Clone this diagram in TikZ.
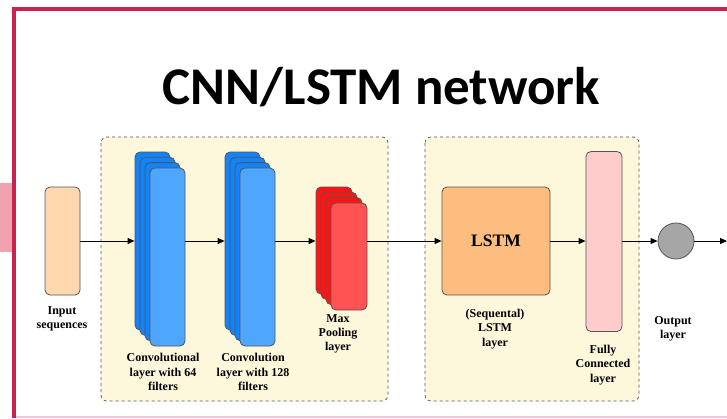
\documentclass[tikz,border=0pt]{standalone}
\usepackage{fontspec}
\setmainfont{Liberation Serif}
\newfontfamily\titlefont{Carlito}
\newfontfamily\labelfont{Liberation Serif}
\usetikzlibrary{arrows.meta}
\definecolor{framered}{HTML}{C8234F}
\definecolor{sidepink}{HTML}{F0A3AE}
\definecolor{edgepink}{HTML}{F2C6D2}
\definecolor{panelfill}{HTML}{FDF7DC}
\definecolor{inputfill}{HTML}{FDD8AE}
\definecolor{bluedeep}{HTML}{1283FA}
\definecolor{bluelight}{HTML}{4FA6FF}
\definecolor{reddeep}{HTML}{FF1414}
\definecolor{redlight}{HTML}{FF5252}
\definecolor{lstmfill}{HTML}{FDBD7E}
\definecolor{fcfill}{HTML}{FFCCCC}
\definecolor{outfill}{HTML}{A6A6A6}
\definecolor{edgegray}{HTML}{555555}
\tikzset{
  panel/.style={draw=edgegray, dashed, line width=0.7pt, fill=panelfill, rounded corners=6pt},
  block/.style={draw=edgegray, line width=0.8pt, rounded corners=5pt, inner sep=0pt},
  layerdeep/.style={block, fill=#1, minimum width=35pt, minimum height=178pt},
  poolayer/.style={block, fill=#1, minimum width=36pt, minimum height=107pt},
  flow/.style={line width=0.9pt, -{Triangle[length=7pt,width=6pt]}},
  lbl/.style={font=\labelfont\bfseries\fontsize{12}{14.3}\selectfont, align=center, inner sep=0pt}
}
\begin{document}
\begin{tikzpicture}[x=1pt,y=-1pt]
\useasboundingbox (0,0) rectangle (727,418);
\fill[white] (0,0) rectangle (727,418);
% slide decoration
\fill[sidepink] (0,183) rectangle (12,252);
\fill[edgepink] (16,415.5) rectangle (727,418);
\draw[framered, line width=4pt] (14,418) -- (14,9) -- (727,9);
% title
\node[anchor=base, inner sep=0pt, font=\titlefont\bfseries\fontsize{53}{60}\selectfont] (title) at (381.5,104) {CNN/LSTM network};
% panels
\draw[panel] (101,137) rectangle (388,401);
\draw[panel] (425,137) rectangle (639,401);
% input
\node[block, fill=inputfill, minimum width=35pt, minimum height=108pt] (inp) at (62.5,241) {};
\node[lbl] (inplbl) at (62,319) {Input\\sequences};
% first convolution stack
\node[layerdeep=bluedeep] (c1a) at (152.5,241) {};
\node[layerdeep=bluedeep] (c1b) at (157.5,246.3) {};
\node[layerdeep=bluedeep] (c1c) at (162.5,251.6) {};
\node[layerdeep=bluelight] (c1d) at (167.5,257) {};
\node[lbl] (c1lbl) at (163,372) {Convolutional\\layer with 64\\filters};
% second convolution stack
\node[layerdeep=bluedeep] (c2a) at (242.5,241) {};
\node[layerdeep=bluedeep] (c2b) at (247.5,246.3) {};
\node[layerdeep=bluedeep] (c2c) at (252.5,251.6) {};
\node[layerdeep=bluelight] (c2d) at (257.5,257) {};
\node[lbl] (c2lbl) at (253,372) {Convolution\\layer with 128\\filters};
% max pooling stack
\node[poolayer=reddeep] (mpa) at (334,240.5) {};
\node[poolayer=reddeep] (mpb) at (339,245.8) {};
\node[poolayer=reddeep] (mpc) at (344,251.1) {};
\node[poolayer=redlight] (mpd) at (349,256.5) {};
\node[lbl] (mplbl) at (338,334) {Max\\Pooling\\layer};
% LSTM
\node[block, fill=lstmfill, minimum width=108pt, minimum height=108pt, font=\labelfont\bfseries\fontsize{17.5}{20}\selectfont] (lstm) at (496,241) {LSTM};
\node[lbl] (lstmlbl) at (495,329) {(Sequental)\\LSTM\\layer};
% fully connected
\node[block, fill=fcfill, minimum width=36pt, minimum height=180pt] (fc) at (604,241.5) {};
\node[lbl] (fclbl) at (603,365) {Fully\\Connected\\layer};
% output
\node[circle, draw=edgegray, line width=0.8pt, fill=outfill, minimum size=36pt, inner sep=0pt] (out) at (676,241) {};
\node[lbl] (outlbl) at (673,329) {Output\\layer};
\coordinate (exit) at (727,241);
% connectors
\draw[flow] (inp.east) -- (c1a.west);
\draw[flow] (c1d.east |- c1a.west) -- (c2a.west);
\draw[flow] (c2d.east |- c2a.west) -- (mpa.west |- c2a.west);
\draw[flow] (mpd.east |- lstm.west) -- (lstm.west);
\draw[flow] (lstm.east) -- (fc.west |- lstm.east);
\draw[flow] (fc.east |- out.west) -- (out.west);
\draw[flow] (out.east) -- (exit);
\end{tikzpicture}
\end{document}
